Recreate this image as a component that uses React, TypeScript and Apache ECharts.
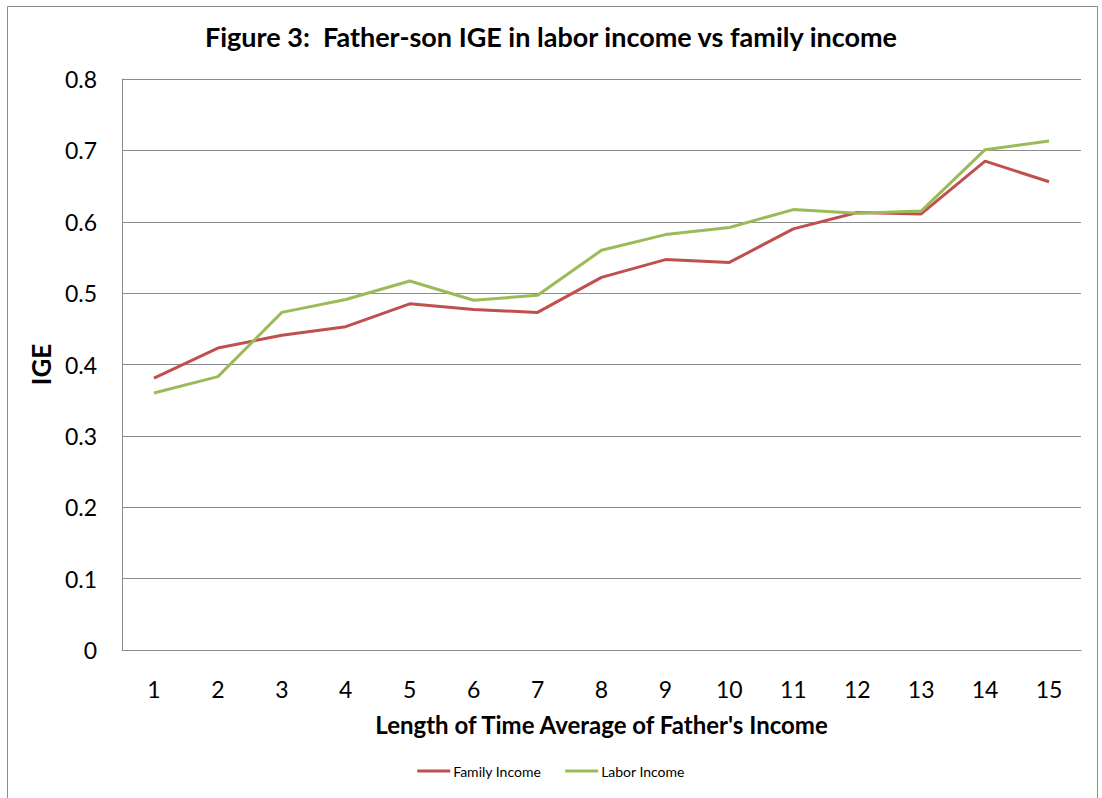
import React, { useEffect, useRef } from "react";
import * as echarts from "echarts";

const categories = ["1", "2", "3", "4", "5", "6", "7", "8", "9", "10", "11", "12", "13", "14", "15"];
const familyIncome = [0.381, 0.423, 0.441, 0.453, 0.485, 0.477, 0.473, 0.522, 0.547, 0.543, 0.59, 0.613, 0.611, 0.685, 0.656];
const laborIncome = [0.36, 0.383, 0.473, 0.491, 0.517, 0.49, 0.497, 0.56, 0.582, 0.592, 0.617, 0.612, 0.615, 0.701, 0.713];

const FONT = "Lato, 'Open Sans', sans-serif";

export default function App() {
  const ref = useRef<HTMLDivElement>(null);
  useEffect(() => {
    document.body.style.margin = "0";
    const chart = echarts.init(ref.current!, null, { renderer: "svg" });
    chart.setOption({
      animation: false,
      backgroundColor: "#ffffff",
      textStyle: { fontFamily: FONT, color: "#000" },
      title: {
        text: "Figure 3:  Father-son IGE in labor income vs family income",
        left: "center",
        top: 18,
        textStyle: { fontFamily: FONT, fontSize: 27, fontWeight: "bold", color: "#000" },
      },
      graphic: [
        {
          type: "rect",
          shape: { x: 7.5, y: 6.5, width: 1090, height: 800 },
          style: { fill: "none", stroke: "#8c8c8c", lineWidth: 1 },
          silent: true,
        },
      ],
      grid: { left: 122, right: 21, top: 79, bottom: 148, containLabel: false },
      legend: {
        bottom: 15,
        left: "center",
        icon: "rect",
        itemWidth: 33,
        itemHeight: 3,
        itemGap: 24,
        textStyle: { fontFamily: FONT, fontSize: 14, color: "#000", padding: [0, 0, 0, -2] },
        data: ["Family Income", "Labor Income"],
      },
      xAxis: {
        type: "category",
        data: categories,
        boundaryGap: true,
        name: "Length of Time Average of Father's Income",
        nameLocation: "middle",
        nameGap: 62,
        nameTextStyle: { fontFamily: FONT, fontSize: 24, fontWeight: "bold", color: "#000" },
        axisLine: { show: true, lineStyle: { color: "#8c8c8c", width: 1 } },
        axisTick: { show: false },
        axisLabel: { fontFamily: FONT, fontSize: 23, color: "#000", margin: 27 },
        splitLine: { show: false },
      },
      yAxis: {
        type: "value",
        min: 0,
        max: 0.8,
        interval: 0.1,
        name: "IGE",
        nameLocation: "middle",
        nameGap: 64,
        nameRotate: 90,
        nameTextStyle: { fontFamily: FONT, fontSize: 26, fontWeight: "bold", color: "#000" },
        axisLine: { show: true, lineStyle: { color: "#8c8c8c", width: 1 } },
        axisTick: { show: false },
        axisLabel: {
          fontFamily: FONT,
          fontSize: 23,
          color: "#000",
          margin: 25,
          formatter: (v: number) => String(parseFloat(v.toFixed(1))),
        },
        splitLine: { show: true, lineStyle: { color: "#8c8c8c", width: 1 } },
      },
      series: [
        {
          name: "Family Income",
          type: "line",
          data: familyIncome,
          symbol: "none",
          showSymbol: false,
          color: "#C0504D",
          lineStyle: { color: "#C0504D", width: 3 },
        },
        {
          name: "Labor Income",
          type: "line",
          data: laborIncome,
          symbol: "none",
          showSymbol: false,
          color: "#9BBB59",
          lineStyle: { color: "#9BBB59", width: 3 },
        },
      ],
    });
    return () => chart.dispose();
  }, []);
  return <div ref={ref} style={{ width: 1102, height: 798 }} />;
}
